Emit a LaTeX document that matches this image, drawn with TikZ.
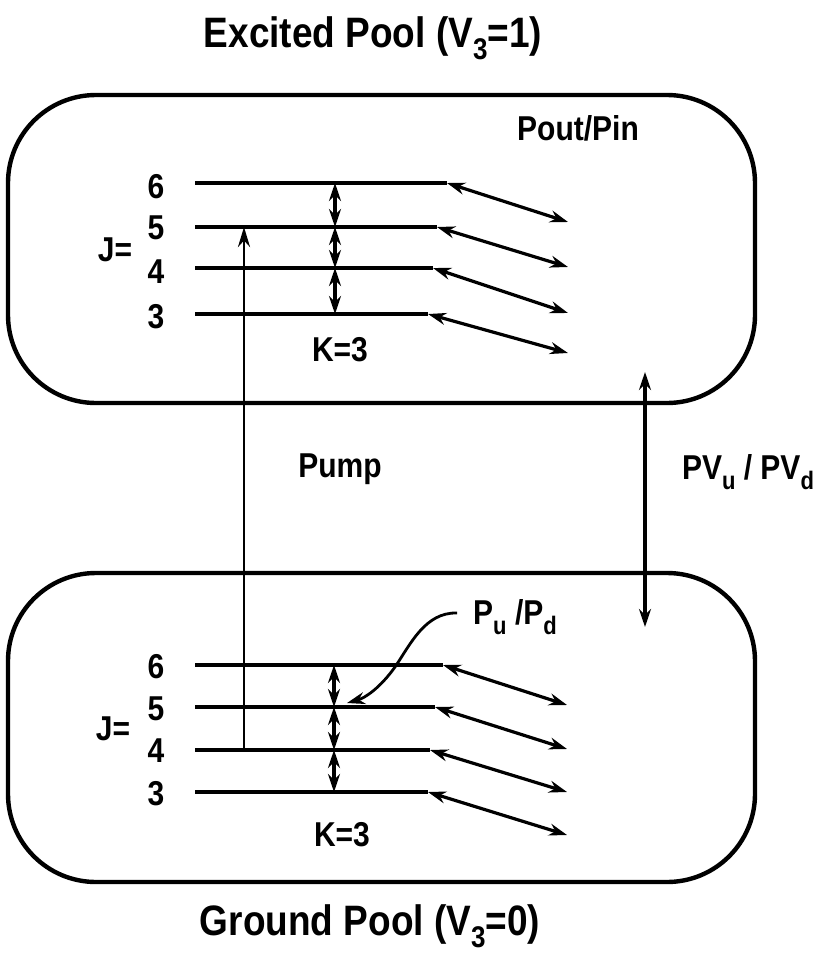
\documentclass[tikz,border=0pt]{standalone}
\usepackage{fontspec}
\setmainfont{Liberation Sans}
\usetikzlibrary{arrows.meta}
\newcommand{\subtxt}[1]{\raisebox{-0.3em}{\fontsize{13}{14}\selectfont #1}}
\newcommand{\subsm}[1]{\raisebox{-0.3em}{\fontsize{11}{12}\selectfont #1}}
\newcommand{\tall}[1]{\scalebox{1}[1.15]{#1}}
\begin{document}
\begin{tikzpicture}[x=0.5pt,y=-0.5pt,
  pool/.style={line width=2.2pt, rounded corners=44pt},
  level/.style={line width=1.9pt},
  tr/.style={line width=1.6pt, {Stealth[length=9pt,width=6pt]}-{Stealth[length=9pt,width=6pt]}},
  pumparrow/.style={line width=1.4pt, -{Stealth[length=10pt,width=6pt]}},
  lbl/.style={font=\bfseries\fontsize{15}{17}\selectfont, inner sep=0pt},
  title/.style={font=\bfseries\fontsize{18.5}{20}\selectfont, inner sep=0pt, anchor=base}]
\useasboundingbox (0,0) rectangle (826,959);
% pools
\draw[pool] (8,95) rectangle (755,403);
\draw[pool] (8,573) rectangle (755,882);
\node[title] (t1) at (373,47) {\tall{Excited Pool (V\subtxt{3}=1)}};
\node[title] (t2) at (370,935) {\tall{Ground Pool (V\subtxt{3}=0)}};
% upper levels
\foreach \j/\y/\xe/\ye in {6/183/447/222,5/227/437/267,4/268/433/313,3/314/428/353}{
  \coordinate (uL\j) at (195,\y);
  \coordinate (uR\j) at (\xe,\y);
  \coordinate (uD\j) at (568,\ye);
  \coordinate (uV\j) at (335,\y);
  \draw[level] (uL\j) -- (uR\j);
  \draw[tr] (uR\j) -- (uD\j);
}
\node[lbl] (un6) at (156,187) {\tall{6}};
\node[lbl] (un5) at (156,228) {\tall{5}};
\node[lbl] (un4) at (156,272) {\tall{4}};
\node[lbl] (un3) at (156,317) {\tall{3}};
\draw[tr] (uV6) -- (uV5);
\draw[tr] (uV5) -- (uV4);
\draw[tr] (uV4) -- (uV3);
\node[lbl] (uJ) at (115,250) {\tall{J=}};
\node[lbl] (uK) at (340,350) {\tall{K=3}};
\node[lbl] (pout) at (578,128) {\tall{Pout/Pin}};
% lower levels
\foreach \j/\y/\xe/\ye in {6/665/443/705,5/707/435/749,4/750/430/792,3/792/428/835}{
  \coordinate (lL\j) at (195,\y);
  \coordinate (lR\j) at (\xe,\y);
  \coordinate (lD\j) at (567,\ye);
  \coordinate (lV\j) at (334,\y);
  \draw[level] (lL\j) -- (lR\j);
  \draw[tr] (lR\j) -- (lD\j);
}
\node[lbl] (ln6) at (156,667) {\tall{6}};
\node[lbl] (ln5) at (156,709) {\tall{5}};
\node[lbl] (ln4) at (156,751) {\tall{4}};
\node[lbl] (ln3) at (156,794) {\tall{3}};
\draw[tr] (lV6) -- (lV5);
\draw[tr] (lV5) -- (lV4);
\draw[tr] (lV4) -- (lV3);
\node[lbl] (lJ) at (113,729) {\tall{J=}};
\node[lbl] (lK) at (342,835) {\tall{K=3}};
% pump
\coordinate (pb) at (244,750);
\coordinate (pt) at (244,227);
\draw[pumparrow] (pb) -- (pt);
\node[lbl] (pump) at (340,469) {\tall{Pump}};
% vibrational
\coordinate (va) at (645,372);
\coordinate (vb) at (645,627);
\draw[tr] (va) -- (vb);
\node[lbl] (pv) at (748,472) {\tall{PV\subsm{u} / PV\subsm{d}}};
% Pu/Pd label and curved pointer
\node[lbl] (pud) at (515,617) {\tall{P\subsm{u} /P\subsm{d}}};
\coordinate (cs) at (457,613);
\coordinate (ce) at (347,703);
\draw[line width=1.4pt, -{Stealth[length=9pt,width=6pt]}] (cs) .. controls (425,612) and (410,645) .. (395,667) .. controls (380,688) and (365,698) .. (ce);
\end{tikzpicture}
\end{document}
